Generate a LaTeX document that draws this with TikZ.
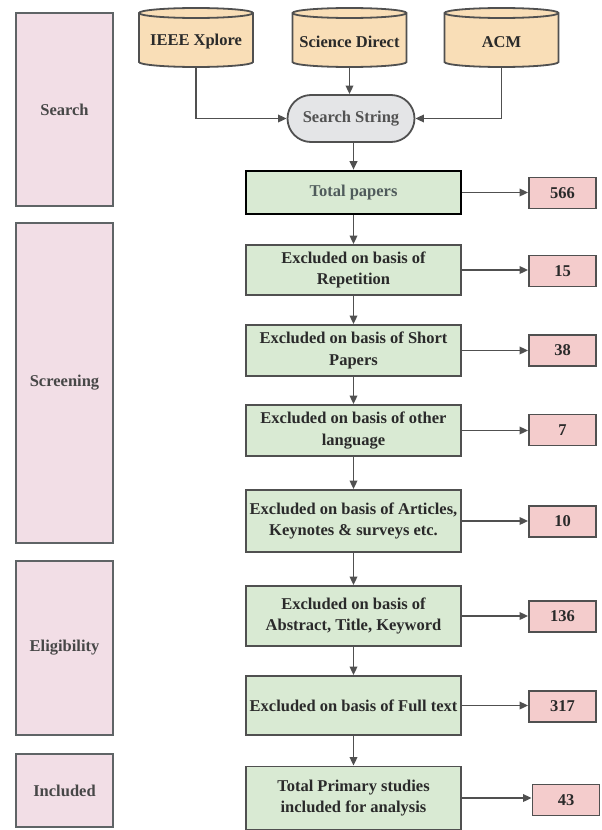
\documentclass[tikz,border=0pt]{standalone}
\usepackage{fontspec}
\setmainfont{Liberation Serif}
\usetikzlibrary{shapes.misc,arrows.meta}
\definecolor{phasefill}{HTML}{F2DEE6}
\definecolor{phaseline}{HTML}{5F6466}
\definecolor{cylfill}{HTML}{F9DEB7}
\definecolor{ssfill}{HTML}{E4E5E7}
\definecolor{greenfill}{HTML}{D9EAD3}
\definecolor{numfill}{HTML}{F4CCCC}
\definecolor{edge}{HTML}{505050}
\definecolor{txt}{HTML}{2A2A2A}
\definecolor{graytxt}{HTML}{4F5B5B}
\newcommand\cylshape{%
  \path[cylbody] (-57,13) -- (-57,62) arc[start angle=180,end angle=360,x radius=57pt,y radius=5pt]
    -- (57,13) arc[start angle=0,end angle=180,x radius=57pt,y radius=5pt] -- cycle;
  \draw[cylbody,fill=none] (-57,13) arc[start angle=180,end angle=360,x radius=57pt,y radius=5pt];}
\begin{document}
\begin{tikzpicture}[x=1pt,y=-1pt,
  base/.style={font=\fontsize{16.5}{21.5}\selectfont\bfseries, text=txt, align=center, inner sep=0pt},
  phase/.style={base, draw=phaseline, fill=phasefill, line width=2pt, minimum width=97pt, text=black!72},
  cylbody/.style={draw=edge, fill=cylfill, line width=1.8pt},
  sstr/.style={base, rounded rectangle, draw=edge, fill=ssfill, line width=1.8pt, minimum width=127pt, minimum height=47pt, text=black!68},
  stepbox/.style={base, draw=edge, fill=greenfill, line width=1.8pt, minimum width=215pt},
  numbox/.style={base, draw=edge, fill=numfill, line width=1.8pt, minimum width=67pt, minimum height=31pt},
  arr/.style={draw=edge, line width=1.8pt, -{Triangle[length=8.5pt,width=7.5pt]}}
]
\useasboundingbox (0,0) rectangle (602,830);

% phase boxes
\node[phase, minimum height=193pt] (search) at (64.5,109.5) {Search};
\node[phase, minimum height=320pt] (screening) at (64.5,383) {Screening};
\node[phase, minimum height=174pt] (eligibility) at (64.5,648) {Eligibility};
\node[phase, minimum height=73pt] (included) at (64.5,790.5) {Included};

% databases
\begin{scope}[shift={(196,0)}]
  \cylshape
  \node[base] (ieee) at (0,42) {IEEE Xplore};
  \coordinate (ieeeb) at (0,67);
\end{scope}
\begin{scope}[shift={(349.5,0)}]
  \cylshape
  \node[base] (sci) at (0,42) {Science Direct};
  \coordinate (scib) at (0,67);
\end{scope}
\begin{scope}[shift={(501.5,0)}]
  \cylshape
  \node[base] (acm) at (0,42) {ACM};
  \coordinate (acmb) at (0,67);
\end{scope}

\node[sstr] (ss) at (351,118.5) {Search String};

% steps
\node[stepbox, draw=black, line width=2.6pt, minimum height=43pt, text=graytxt] (g1) at (353.5,192.5) {Total papers};
\node[stepbox, minimum height=50pt] (g2) at (353.5,270) {Excluded on basis of\\Repetition};
\node[stepbox, minimum height=51pt] (g3) at (353.5,350.5) {Excluded on basis of Short\\Papers};
\node[stepbox, minimum height=51pt] (g4) at (353.5,430.5) {Excluded on basis of other\\language};
\node[stepbox, minimum height=62pt] (g5) at (353.5,521) {Excluded on basis of Articles,\\Keynotes \& surveys etc.};
\node[stepbox, minimum height=60pt] (g6) at (353.5,616) {Excluded on basis of\\Abstract, Title, Keyword};
\node[stepbox, minimum height=59pt] (g7) at (353.5,705.5) {Excluded on basis of Full text};
\node[stepbox, minimum height=63pt] (g8) at (353.5,798) {Total Primary studies\\included for analysis};

% counts
\node[numbox] (n1) at (562.5,193) {566};
\node[numbox] (n2) at (562.5,271) {15};
\node[numbox] (n3) at (562.5,350.5) {38};
\node[numbox] (n4) at (562.5,430) {7};
\node[numbox] (n5) at (562.5,521.5) {10};
\node[numbox] (n6) at (562.5,616.5) {136};
\node[numbox] (n7) at (562.5,706.5) {317};
\node[numbox] (n8) at (566,800) {43};

% connectors
\draw[arr] (ieeeb) |- (ss.west);
\draw[arr] (acmb) |- (ss.east);
\draw[arr] (scib) -- (scib |- ss.north);
\draw[arr] (g1.north |- ss.south) -- (g1.north);
\foreach \a/\b in {g1/g2,g2/g3,g3/g4,g4/g5,g5/g6,g6/g7,g7/g8}
  \draw[arr] (\a.south) -- (\b.north);
\foreach \i in {1,...,8}
  \draw[arr] (g\i.east) -- (g\i.east -| n\i.west);
\end{tikzpicture}
\end{document}
